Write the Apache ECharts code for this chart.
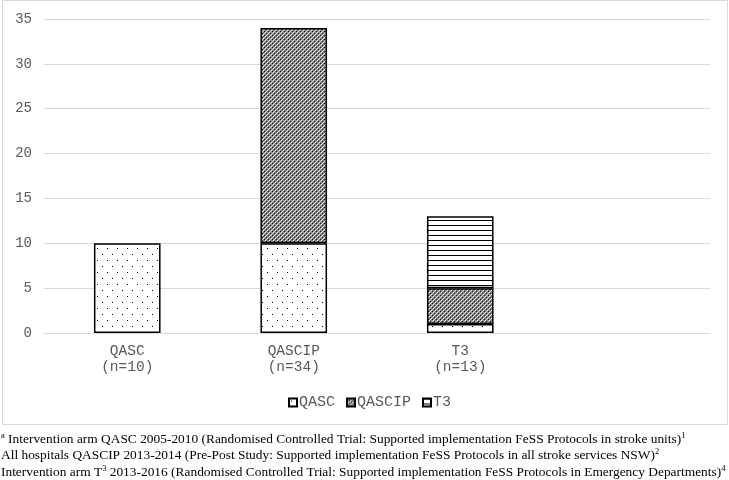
<!DOCTYPE html>
<html><head><meta charset="utf-8">
<script src="https://cdn.jsdelivr.net/npm/echarts@6/dist/echarts.min.js"></script>
<style>html,body{margin:0;padding:0;background:#fff}#c{width:729px;height:480px}</style>
</head><body><div id="c"></div>
<script>
// ---- data ----
const categories = ['QASC\n(n=10)', 'QASCIP\n(n=34)', 'T3\n(n=13)', ''];
const seriesNames = ['QASC', 'QASCIP', 'T3'];
const qascValues = [10, 10, 1, '-'];
const qascipValues = ['-', 24, 4, '-'];
const t3Values = ['-', '-', 8, '-'];
const yMin = 0, yMax = 35, yInterval = 5;
const footnoteLines = [
  '{sup|a} Intervention arm QASC 2005-2010 (Randomised Controlled Trial: Supported implementation FeSS Protocols in stroke units){sup|1}',
  'All hospitals QASCIP 2013-2014 (Pre-Post Study: Supported implementation FeSS Protocols in all stroke services NSW){sup|2}',
  'Intervention arm T{sup|3} 2013-2016 (Randomised Controlled Trial: Supported implementation FeSS Protocols in Emergency Departments){sup|4}'
];

// ---- patterns ----
function makePattern(w, h, draw) {
  const c = document.createElement('canvas');
  c.width = w; c.height = h;
  const ctx = c.getContext('2d');
  draw(ctx);
  return { image: c, repeat: 'repeat' };
}
const dotPattern = makePattern(10, 12, ctx => {
  ctx.fillStyle = '#fff'; ctx.fillRect(0, 0, 10, 12);
  ctx.fillStyle = '#000';
  ctx.fillRect(2, 2, 1, 1);
  ctx.fillRect(7, 8, 1, 1);
});
const gridPattern = makePattern(4, 4, ctx => {
  ctx.fillStyle = '#808080'; ctx.fillRect(0, 0, 4, 4);
  ctx.fillStyle = '#fff';
  ctx.fillRect(1, 0, 1, 1); ctx.fillRect(3, 2, 1, 1);
  ctx.fillStyle = '#d4d4d4';
  ctx.fillRect(0, 1, 1, 1); ctx.fillRect(2, 3, 1, 1);
  ctx.fillStyle = '#222';
  ctx.fillRect(2, 1, 1, 1); ctx.fillRect(0, 3, 1, 1);
});
const linePattern = makePattern(5, 5, ctx => {
  ctx.fillStyle = '#fff'; ctx.fillRect(0, 0, 5, 5);
  ctx.fillStyle = '#000'; ctx.fillRect(0, 0, 5, 1);
});
const patterns = [dotPattern, gridPattern, linePattern];
const valueArrays = [qascValues, qascipValues, t3Values];

const chart = echarts.init(document.getElementById('c'), null, { renderer: 'canvas' });
const mono = '"Liberation Mono", "DejaVu Sans Mono", monospace';

chart.setOption({
  animation: false,
  backgroundColor: '#fff',
  grid: { left: 44, right: 19, top: 19, bottom: 147, containLabel: false },
  legend: {
    data: seriesNames,
    left: 283, top: 390,
    icon: 'rect', itemWidth: 8, itemHeight: 8, itemGap: 11,
    textStyle: { fontFamily: mono, fontSize: 15, color: '#595959', padding: [0, 0, 0, -3] }
  },
  xAxis: {
    type: 'category',
    data: categories,
    axisLine: { lineStyle: { color: '#d9d9d9', width: 1 } },
    axisTick: { show: false },
    axisLabel: { fontFamily: mono, fontSize: 14.5, color: '#595959', margin: 10, lineHeight: 16, interval: 0 }
  },
  yAxis: {
    type: 'value', min: yMin, max: yMax, interval: yInterval,
    axisLine: { show: false }, axisTick: { show: false },
    splitLine: { lineStyle: { color: '#d9d9d9', width: 1 } },
    axisLabel: { fontFamily: mono, fontSize: 14, color: '#595959', margin: 12 }
  },
  series: seriesNames.map((name, i) => ({
    name, type: 'bar', stack: 'total', barWidth: '40%',
    data: valueArrays[i],
    itemStyle: { color: patterns[i], borderColor: '#000', borderWidth: 1.5 },
    emphasis: { disabled: true }
  })),
  graphic: [
    { type: 'rect', shape: { x: 2.5, y: 0.5, width: 725, height: 424 }, style: { fill: 'none', stroke: '#d9d9d9', lineWidth: 1 }, silent: true },
  ].concat(footnoteLines.map((t, i) => ({
    type: 'text', left: 1, top: 431 + i * 16.5, silent: true,
    style: {
      text: t,
      font: '13.4px "Liberation Serif", "Times New Roman", serif',
      fill: '#000',
      lineHeight: 16,
      rich: {
        sup: { fontSize: 8.5, fontFamily: '"Liberation Serif", serif', verticalAlign: 'top', lineHeight: 16, fill: '#000' }
      }
    }
  })))
});
</script></body></html>
